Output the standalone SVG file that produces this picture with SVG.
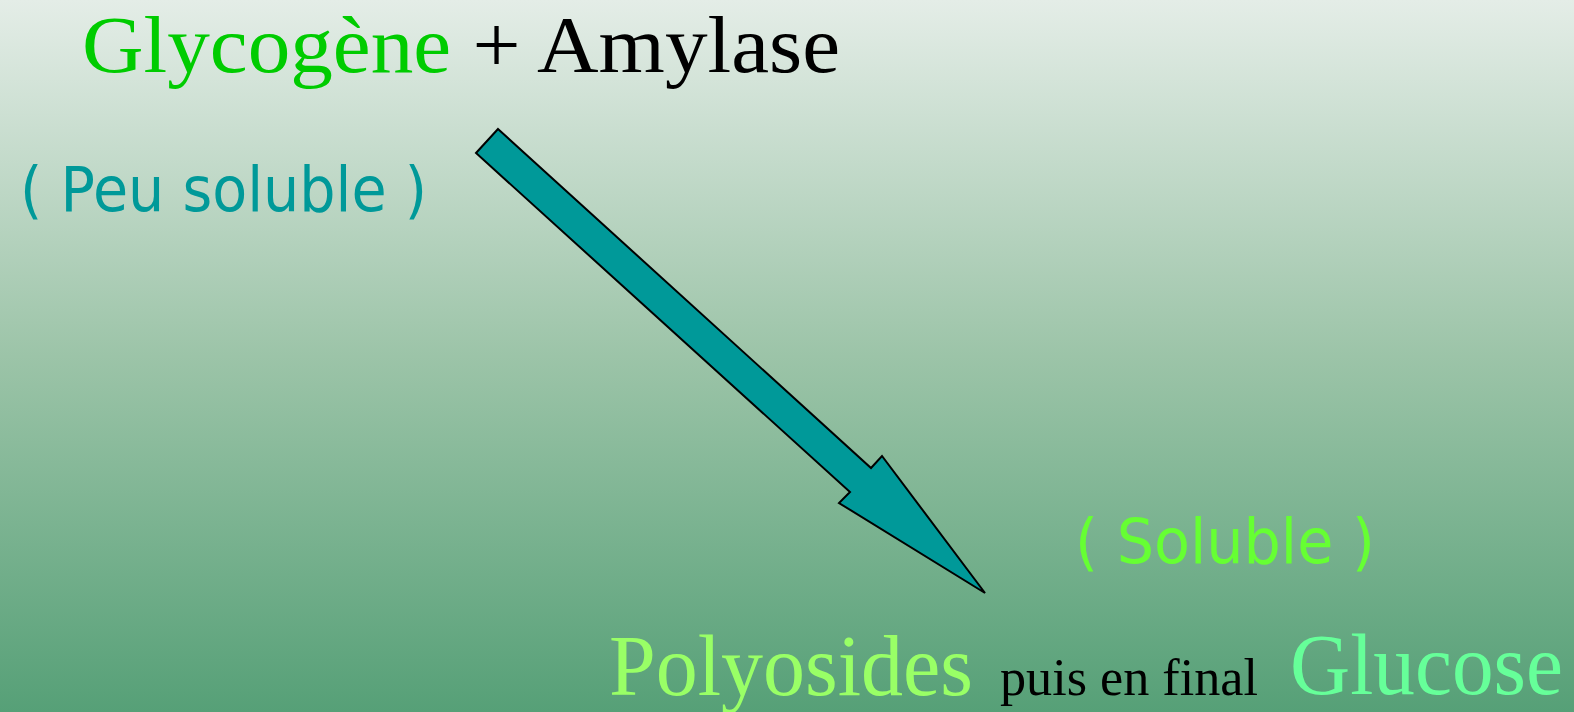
<svg xmlns="http://www.w3.org/2000/svg" width="1574" height="712" viewBox="0 0 1574 712">
  <defs>
    <linearGradient id="bg" x1="0" y1="0" x2="0" y2="1">
      <stop offset="0" stop-color="#e4ede7"/>
      <stop offset="0.5" stop-color="#9cc4a8"/>
      <stop offset="1" stop-color="#56a077"/>
    </linearGradient>
  </defs>
  <style>
    .serif { font-family: "Liberation Serif", "Times New Roman", serif; }
    .big { font-size: 86px; }
    .top { font-size: 80px; }
    .small { font-size: 52px; }
    .hand { font-family: "DejaVu Sans", "Open Sans", sans-serif; font-size: 62px; }
  </style>
  <rect x="0" y="0" width="1574" height="712" fill="url(#bg)"/>
  <g id="top-label">
    <text class="serif top" x="82" y="72" textLength="758" lengthAdjust="spacingAndGlyphs"><tspan fill="#00cc00">Glycogène</tspan><tspan fill="#000000"> + Amylase</tspan></text>
  </g>
  <g id="peu-soluble">
    <text class="hand" x="20" y="211" fill="#009999" textLength="407" lengthAdjust="spacingAndGlyphs">( Peu soluble )</text>
  </g>
  <g id="soluble">
    <text class="hand" x="1075" y="563" fill="#66ff33" textLength="300" lengthAdjust="spacingAndGlyphs">( Soluble )</text>
  </g>
  <g id="bottom-label">
    <text class="serif big" x="609" y="695" fill="#99ff66" textLength="364" lengthAdjust="spacingAndGlyphs">Polyosides</text>
    <text class="serif small" x="1000" y="695" fill="#000000" textLength="258" lengthAdjust="spacingAndGlyphs">puis en final</text>
    <text class="serif big" x="1290" y="694" fill="#66ff99" textLength="273" lengthAdjust="spacingAndGlyphs">Glucose</text>
  </g>
  <g id="connectors">
    <polygon points="498,129 871,468 882,456 985,593 839,503 850,492 476,153" fill="#009999" stroke="#000000" stroke-width="2" stroke-linejoin="miter"/>
  </g>
</svg>
